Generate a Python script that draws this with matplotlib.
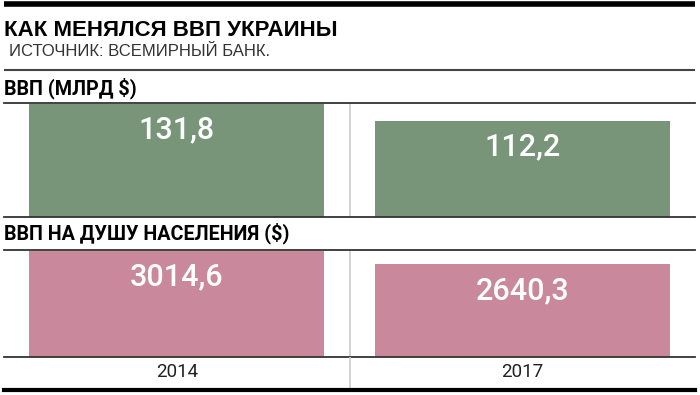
import matplotlib.pyplot as plt
from matplotlib.lines import Line2D

plt.rcParams['font.family'] = ['Liberation Sans', 'DejaVu Sans']

# data
years = ['2014', '2017']
gdp_bln = [131.8, 112.2]
gdp_per_capita = [3014.6, 2640.3]

title = 'КАК МЕНЯЛСЯ ВВП УКРАИНЫ'
source = 'ИСТОЧНИК: ВСЕМИРНЫЙ БАНК.'
label_gdp = 'ВВП (МЛРД $)'
label_pc = 'ВВП НА ДУШУ НАСЕЛЕНИЯ ($)'

green = '#78957a'
pink = '#c9889b'

W, H = 700, 395
fig = plt.figure(figsize=(W / 100, H / 100), dpi=100)


def fx(px):
    return px / W


def fy(px):
    return 1 - px / H


def hline(y, lw, color, x0=4, x1=695):
    fig.add_artist(Line2D([fx(x0), fx(x1)], [fy(y), fy(y)], lw=lw, color=color,
                          transform=fig.transFigure, solid_capstyle='butt'))


# header
hline(4, 4, 'black')
fig.text(fx(4), fy(30), title, fontsize=16, fontweight='bold', va='center', ha='left')
fig.text(fx(9), fy(52), source, fontsize=12, va='center', ha='left', color='#333333')
hline(70, 1.5, '#444444')
fig.text(fx(4), fy(88), label_gdp, fontsize=14.2, fontweight='bold', va='center', ha='left',
         family='Roboto')
fig.text(fx(4), fy(233), label_pc, fontsize=14.2, fontweight='bold', va='center', ha='left',
         family='Roboto')


def panel(top, bottom, values, color, fmt):
    ax = fig.add_axes([fx(4), fy(bottom), fx(695) - fx(4), (bottom - top) / H])
    x = range(len(values))
    ax.bar(x, values, width=0.854, color=color, zorder=2)
    ax.set_xlim(-0.5, 1.5)
    ax.set_ylim(0, max(values) * 1.008)
    ax.axvline(0.5, color='#cccccc', lw=1.2, zorder=1)
    for i, v in enumerate(values):
        ax.annotate(fmt(v), xy=(i, v), xytext=(0, -19), textcoords='offset points',
                    ha='center', va='center', color='white', fontsize=22, zorder=3,
                    family='Roboto', fontweight='medium')
    for s in ['left', 'right']:
        ax.spines[s].set_visible(False)
    for s in ['top', 'bottom']:
        ax.spines[s].set_color('#333333')
        ax.spines[s].set_linewidth(1.3)
    ax.set_xticks([])
    ax.set_yticks([])
    ax.patch.set_alpha(0)
    return ax


def fmt_ru(v):
    return f'{v:.1f}'.replace('.', ',')


ax1 = panel(103, 217, gdp_bln, green, fmt_ru)
ax2 = panel(250, 357, gdp_per_capita, pink, fmt_ru)

# year row
ax3 = fig.add_axes([fx(4), fy(390), fx(695) - fx(4), (390 - 357) / H])
ax3.set_xlim(-0.5, 1.5)
ax3.set_ylim(0, 1)
ax3.axvline(0.5, color='#cccccc', lw=1.2)
for i, yr in enumerate(years):
    ax3.text(i, 0.55, yr, ha='center', va='center', fontsize=13.5, color='#222222',
             family='Roboto')
for s in ['left', 'right', 'top']:
    ax3.spines[s].set_visible(False)
ax3.spines['bottom'].set_color('black')
ax3.spines['bottom'].set_linewidth(3)
ax3.set_xticks([])
ax3.set_yticks([])
ax3.patch.set_alpha(0)

fig.savefig('out.png', dpi=100)
